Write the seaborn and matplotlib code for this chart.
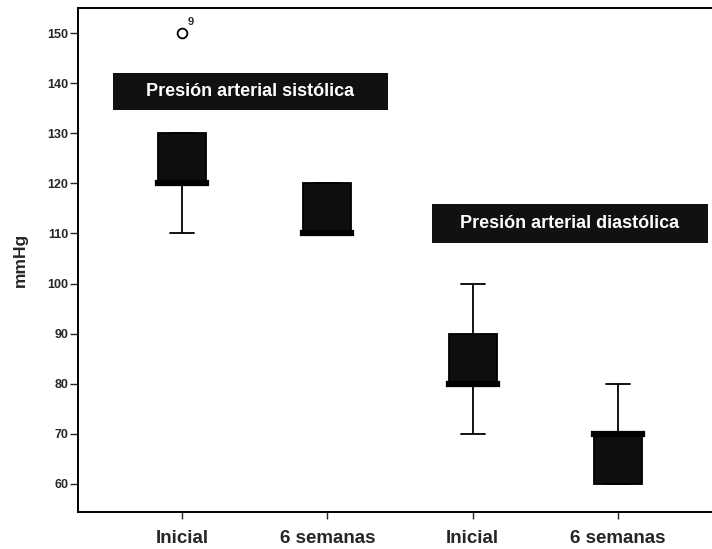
import matplotlib
matplotlib.use("Agg")
import matplotlib.pyplot as plt
import seaborn as sns
import pandas as pd
from matplotlib.patches import Rectangle

# ---- data ----
groups = ["sis_ini", "sis_6s", "dia_ini", "dia_6s"]
tick_labels = ["Inicial", "6 semanas", "Inicial", "6 semanas"]
sis_inicial = [110, 120, 120, 120, 130, 130, 150]
sis_6sem = [110, 110, 110, 110, 120, 120, 120]
dia_inicial = [70, 80, 80, 80, 90, 90, 100]
dia_6sem = [60, 60, 60, 70, 70, 70, 80]
outlier_case = "9"
yticks = [60, 70, 80, 90, 100, 110, 120, 130, 140, 150]
label_sis = "Presión arterial sistólica"
label_dia = "Presión arterial diastólica"

values = [sis_inicial, sis_6sem, dia_inicial, dia_6sem]
df = pd.DataFrame({
    "grupo": [g for g, v in zip(groups, values) for _ in v],
    "mmHg": [x for v in values for x in v],
})

sns.set_style("white")
plt.rcParams["font.family"] = ["Liberation Sans", "DejaVu Sans"]

fig = plt.figure(figsize=(7.12, 5.49), dpi=100)
ax = fig.add_axes([0.1096, 0.0674, 0.8904, 0.918])

sns.boxplot(
    data=df, x="grupo", y="mmHg", order=groups, ax=ax,
    width=0.33, color="#0e0e0e", linecolor="black", saturation=1,
    linewidth=1.3, fliersize=7,
    flierprops=dict(marker="o", markerfacecolor="white",
                    markeredgecolor="black", markeredgewidth=1.3),
    medianprops=dict(color="black", linewidth=4.5, solid_capstyle="projecting"),
)

ax.set_xlim(-0.716, 3.647)
ax.set_ylim(54.4, 155.0)
ax.set_yticks(yticks)
ax.set_yticklabels([str(t) for t in yticks], fontsize=9, fontweight="bold")
ax.set_xticks(range(len(groups)))
ax.set_xticklabels(tick_labels, fontsize=13.5, fontweight="bold")
ax.set_xlabel("")
ax.set_ylabel("mmHg", fontsize=12.5, fontweight="bold", labelpad=14)

ax.tick_params(axis="y", direction="out", length=6, width=1, pad=1, left=True)
ax.tick_params(axis="x", direction="out", length=5, width=1, pad=8, bottom=True)
for s in ["left", "bottom", "top"]:
    ax.spines[s].set_color("black")
    ax.spines[s].set_linewidth(1.4)
ax.spines["right"].set_visible(False)

# outlier case label
ax.annotate(outlier_case, xy=(0, max(sis_inicial)), xytext=(4, 6),
            textcoords="offset points", fontsize=8, fontweight="bold")

# group labels
ax.add_patch(Rectangle((-0.475, 134.6), 1.893, 7.4, facecolor="#111111",
                       edgecolor="none", zorder=3))
ax.text(0.47, 138.3, label_sis, color="white", fontsize=13, fontweight="bold",
        ha="center", va="center", zorder=4)
ax.add_patch(Rectangle((1.72, 108.1), 1.90, 7.8, facecolor="#111111",
                       edgecolor="none", zorder=3))
ax.text(2.67, 112.0, label_dia, color="white", fontsize=13, fontweight="bold",
        ha="center", va="center", zorder=4)

fig.savefig("out.png", dpi=100)
